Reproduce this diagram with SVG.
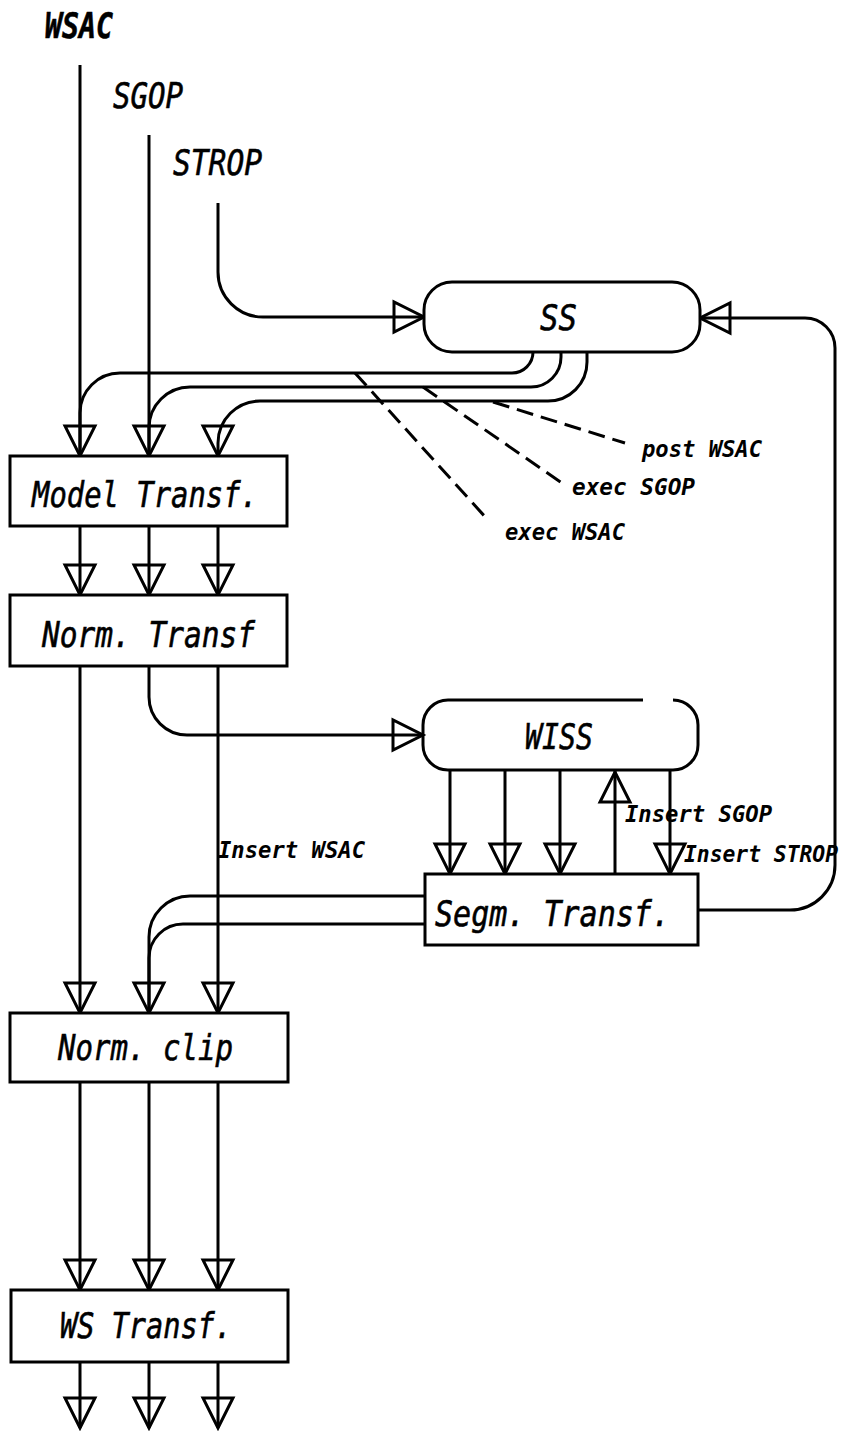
<svg xmlns="http://www.w3.org/2000/svg" xmlns:xlink="http://www.w3.org/1999/xlink" width="847" height="1431" viewBox="0 0 847 1431">
<style>
.ln{fill:none;stroke:#000;stroke-width:3;stroke-linejoin:round}
.dash{fill:none;stroke:#000;stroke-width:3;stroke-dasharray:17 8}
.box{fill:#fff;stroke:#000;stroke-width:3}
.ah{fill:none;stroke:#000;stroke-width:3;stroke-linejoin:miter}
.big{font-family:"DejaVu Sans Mono","Liberation Mono",monospace;font-style:italic;font-size:36px;fill:#000;stroke:#000;stroke-width:0.6}
.lab{font-family:"DejaVu Sans Mono","Liberation Mono",monospace;font-style:italic;font-weight:bold;font-size:23px;fill:#000}
</style>
<defs>
<path id="ad" class="ah" d="M-15,-30 L15,-30 L0,0 Z"/>
<path id="au" class="ah" d="M-15,30 L15,30 L0,0 Z"/>
<path id="ar" class="ah" d="M-30,-15 L-30,15 L0,0 Z"/>
<path id="al" class="ah" d="M30,-15 L30,15 L0,0 Z"/>
</defs>
<rect width="847" height="1431" fill="#fff"/>

<g id="connectors">
<path class="ln" d="M80,65 V456"/>
<path class="ln" d="M149,135 V456"/>
<path class="ln" d="M218,203 V272 A45,45 0 0 0 263,317 H424"/>
<path class="ln" d="M698,910 H790 A45,45 0 0 0 835,865 V348 A30,30 0 0 0 805,318 H700"/>
<path class="ln" d="M533,352 A21,21 0 0 1 512,373 H120 A40,40 0 0 0 80,413 V456"/>
<path class="ln" d="M561,352 V357 A30,30 0 0 1 531,387 H190 A41,41 0 0 0 149,428 V456"/>
<path class="ln" d="M587,352 V362 A39,39 0 0 1 548,401 H260 A42,42 0 0 0 218,443 V456"/>
<path class="ln" d="M80,526 V595 M149,526 V595 M218,526 V595"/>
<path class="ln" d="M80,666 V1013 M218,666 V1013"/>
<path class="ln" d="M149,666 V697 A38,38 0 0 0 187,735 H423"/>
<path class="ln" d="M450,770 V874 M505,770 V874 M560,770 V874 M670,770 V874 M615,874 V770"/>
<path class="ln" d="M425,896 H190 A41,41 0 0 0 149,937 V1013"/>
<path class="ln" d="M425,924 H183 A34,34 0 0 0 149,958 V1013"/>
<path class="ln" d="M80,1082 V1290 M149,1082 V1290 M218,1082 V1290"/>
<path class="ln" d="M80,1362 V1428 M149,1362 V1428 M218,1362 V1428"/>
<path class="dash" d="M493,402 L625,443"/>
<path class="dash" d="M423,387 L562,483"/>
<path class="dash" d="M355,373 L488,520"/>
<use xlink:href="#ad" x="80" y="456"/><use xlink:href="#ad" x="149" y="456"/><use xlink:href="#ad" x="218" y="456"/>
<use xlink:href="#ad" x="80" y="595"/><use xlink:href="#ad" x="149" y="595"/><use xlink:href="#ad" x="218" y="595"/>
<use xlink:href="#ad" x="80" y="1013"/><use xlink:href="#ad" x="149" y="1013"/><use xlink:href="#ad" x="218" y="1013"/>
<use xlink:href="#ad" x="80" y="1290"/><use xlink:href="#ad" x="149" y="1290"/><use xlink:href="#ad" x="218" y="1290"/>
<use xlink:href="#ad" x="80" y="1428"/><use xlink:href="#ad" x="149" y="1428"/><use xlink:href="#ad" x="218" y="1428"/>
<use xlink:href="#ad" x="450" y="874"/><use xlink:href="#ad" x="505" y="874"/><use xlink:href="#ad" x="560" y="874"/><use xlink:href="#ad" x="670" y="874"/>
<use xlink:href="#au" x="615" y="772"/>
<use xlink:href="#ar" x="424" y="317"/>
<use xlink:href="#ar" x="423" y="735"/>
<use xlink:href="#al" x="700" y="318"/>
</g>

<g id="labels">
<text class="big" style="font-weight:bold" x="45" y="38" textLength="68" lengthAdjust="spacingAndGlyphs">WSAC</text>
<text class="big" x="113" y="108" textLength="70" lengthAdjust="spacingAndGlyphs">SGOP</text>
<text class="big" x="173" y="175" textLength="89" lengthAdjust="spacingAndGlyphs">STROP</text>
<text class="lab" x="642" y="457" textLength="120" lengthAdjust="spacingAndGlyphs">post WSAC</text>
<text class="lab" x="572" y="495" textLength="123" lengthAdjust="spacingAndGlyphs">exec SGOP</text>
<text class="lab" x="505" y="540" textLength="120" lengthAdjust="spacingAndGlyphs">exec WSAC</text>
<text class="lab" x="625" y="822" textLength="147" lengthAdjust="spacingAndGlyphs">Insert SGOP</text>
<text class="lab" x="684" y="862" textLength="154" lengthAdjust="spacingAndGlyphs">Insert STROP</text>
<text class="lab" x="218" y="858" textLength="147" lengthAdjust="spacingAndGlyphs">Insert WSAC</text>
</g>

<g id="SS">
<rect class="box" x="424" y="282" width="276" height="70" rx="28"/>
<text class="big" x="540" y="330" textLength="37" lengthAdjust="spacingAndGlyphs">SS</text>
</g>
<g id="WISS">
<path class="ln" d="M643,700 H448 A25,25 0 0 0 423,725 V745 A25,25 0 0 0 448,770 H673 A25,25 0 0 0 698,745 V725 A25,25 0 0 0 673,700"/>
<text class="big" x="525" y="749" textLength="68" lengthAdjust="spacingAndGlyphs">WISS</text>
</g>
<g id="ModelTransf">
<rect class="box" x="10" y="456" width="277" height="70"/>
<text class="big" x="32" y="507" textLength="226" lengthAdjust="spacingAndGlyphs">Model Transf.</text>
</g>
<g id="NormTransf">
<rect class="box" x="10" y="595" width="277" height="71"/>
<text class="big" x="42" y="647" textLength="213" lengthAdjust="spacingAndGlyphs">Norm. Transf</text>
</g>
<g id="SegmTransf">
<rect class="box" x="425" y="874" width="273" height="71"/>
<text class="big" x="435" y="926" textLength="235" lengthAdjust="spacingAndGlyphs">Segm. Transf.</text>
</g>
<g id="NormClip">
<rect class="box" x="10" y="1013" width="278" height="69"/>
<text class="big" x="58" y="1060" textLength="175" lengthAdjust="spacingAndGlyphs">Norm. clip</text>
</g>
<g id="WSTransf">
<rect class="box" x="11" y="1290" width="277" height="72"/>
<text class="big" x="60" y="1338" textLength="172" lengthAdjust="spacingAndGlyphs">WS Transf.</text>
</g>
</svg>
